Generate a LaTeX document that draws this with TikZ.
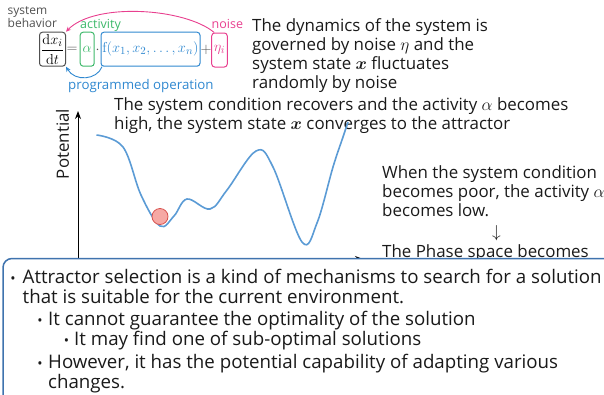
\documentclass[tikz,border=0pt]{standalone}
\usepackage{amsmath}
\usepackage[no-math]{fontspec}
\setmainfont{Open Sans}
\usetikzlibrary{arrows.meta}
\definecolor{curveblue}{HTML}{5B9BD5}
\definecolor{boxblue}{HTML}{3F73AE}
\definecolor{actgreen}{HTML}{3DB86A}
\definecolor{noisepink}{HTML}{E8408F}
\definecolor{progblue}{HTML}{2F88D0}
\definecolor{ballfill}{HTML}{F6A8A4}
\definecolor{ballline}{HTML}{D9534F}
\definecolor{txt}{HTML}{1A1A1A}
\definecolor{eqgray}{HTML}{505050}
\tikzset{
  txtline/.style={anchor=base west, inner sep=0pt, text=txt, font=\fontsize{16.9}{19}\selectfont},
  boxline/.style={anchor=base west, inner sep=0pt, text=txt, font=\fontsize{18.7}{20}\selectfont},
  smalllbl/.style={anchor=base west, inner sep=0pt, font=\fontsize{12.5}{13}\selectfont},
  eqbox/.style={draw, rounded corners=3pt, line width=1pt, inner sep=1pt, minimum height=34pt, font=\fontsize{15.5}{15.5}\selectfont},
  eqsym/.style={inner sep=0pt, font=\fontsize{15.5}{15.5}\selectfont, text=eqgray},
  bul/.style={anchor=base, inner sep=0pt, text=txt, font=\fontsize{14}{14}\selectfont}
}
\begin{document}
\begin{tikzpicture}[x=1pt,y=-1pt]
\useasboundingbox (0,0) rectangle (604,394);
\clip (0,0) rectangle (604,394);

% equation
\node[eqbox, draw=eqgray, minimum width=26pt] (dx) at (52.5,49.2) {$\dfrac{\mathrm{d}x_i}{\mathrm{d}t}$};
\node[eqsym] (eq) at (72,50) {$=$};
\node[eqbox, draw=actgreen, text=actgreen, minimum width=14pt] (al) at (87.2,49.2) {$\alpha$};
\node[eqsym] (cd) at (97.5,50) {$\cdot$};
\node[eqbox, draw=progblue, text=progblue, minimum width=99pt] (f) at (150.5,49.2) {$\mathrm{f}(x_1,x_2,\ldots,x_n)$};
\node[eqsym] (pl) at (206,50) {$+$};
\node[eqbox, draw=noisepink, text=noisepink, minimum width=15.6pt] (eta) at (219.5,50) {$\eta_i$};

\node[smalllbl, text=eqgray, align=left, anchor=north west, font=\fontsize{12}{11}\selectfont] (sb) at (7.5,6.5) {system\\behavior};
\node[smalllbl, text=actgreen] (act) at (80,28.5) {activity};
\node[smalllbl, text=noisepink] (noi) at (211.5,28.5) {noise};
\node[smalllbl, text=progblue, font=\fontsize{13.3}{14}\selectfont] (prog) at (68,89) {programmed operation};

\draw[noisepink, line width=0.9pt, -{Stealth[length=5pt,width=4.5pt]}] (eta.north west) ++(3,0) .. controls (185,8) and (95,2) .. (dx.north east);
\draw[progblue, line width=0.9pt, -{Stealth[length=5pt,width=4.5pt]}] (f.south west) ++(1.5,0) .. controls (97,80) and (75,82) .. (dx.south east);

% texts
\node[txtline, align=left, anchor=north west] (t1) at (252,18.5) {The dynamics of the system is\\governed by noise $\eta$ and the\\system state $\boldsymbol{x}$ fluctuates\\randomly by noise};
\node[txtline, align=left, anchor=north west] (t2) at (114,97) {The system condition recovers and the activity $\alpha$ becomes\\high, the system state $\boldsymbol{x}$ converges to the attractor};
\node[txtline, align=left, anchor=north west] (t3) at (382,165) {When the system condition\\becomes poor, the activity $\alpha$\\becomes low.};
\node[txtline] (arr) at (492,237) {$\downarrow$};
\node[txtline] (t4) at (382,257) {The Phase space becomes};

% potential plot
\coordinate (xend) at (363,259);
\coordinate (o) at (78,259);
\coordinate (ytop) at (78,111);
\draw[line width=1pt, -{Stealth[length=8pt,width=6pt]}] (o) -- (xend);
\draw[line width=1pt, -{Stealth[length=8pt,width=6pt]}] (o) -- (ytop);
\node[txtline, anchor=center, rotate=90] (pot) at (62.5,144) {Potential};
\draw[curveblue, line width=1.6pt] plot[smooth, tension=0.6] coordinates {
 (96.5,135) (123,147) (141,195) (160,226) (174,216) (187,199) (210,209) (227,190) (256,151) (273,167) (302,242) (317,223) (333,167) (343,137) (348,122)};
\node[circle, draw=ballline, fill=ballfill, line width=0.8pt, minimum size=16pt, inner sep=0pt] (ball) at (160,216.5) {};

% bottom box
\draw[boxblue, line width=1.5pt, fill=white, rounded corners=9pt] (3,258.5) rectangle (640,430);
\node[bul] (b1) at (13,283) {•};
\node[boxline] (l1) at (22.5,283) {Attractor selection is a kind of mechanisms to search for a solution};
\node[boxline] (l2) at (22.5,303) {that is suitable for the current environment.};
\node[bul] (b2) at (40,325) {•};
\node[boxline] (l3) at (48,325) {It cannot guarantee the optimality of the solution};
\node[bul] (b3) at (66.5,345.5) {•};
\node[boxline] (l4) at (74,345.5) {It may find one of sub-optimal solutions};
\node[bul] (b4) at (40,368) {•};
\node[boxline] (l5) at (48,368) {However, it has the potential capability of adapting various};
\node[boxline] (l6) at (48,388) {changes.};
\end{tikzpicture}
\end{document}
